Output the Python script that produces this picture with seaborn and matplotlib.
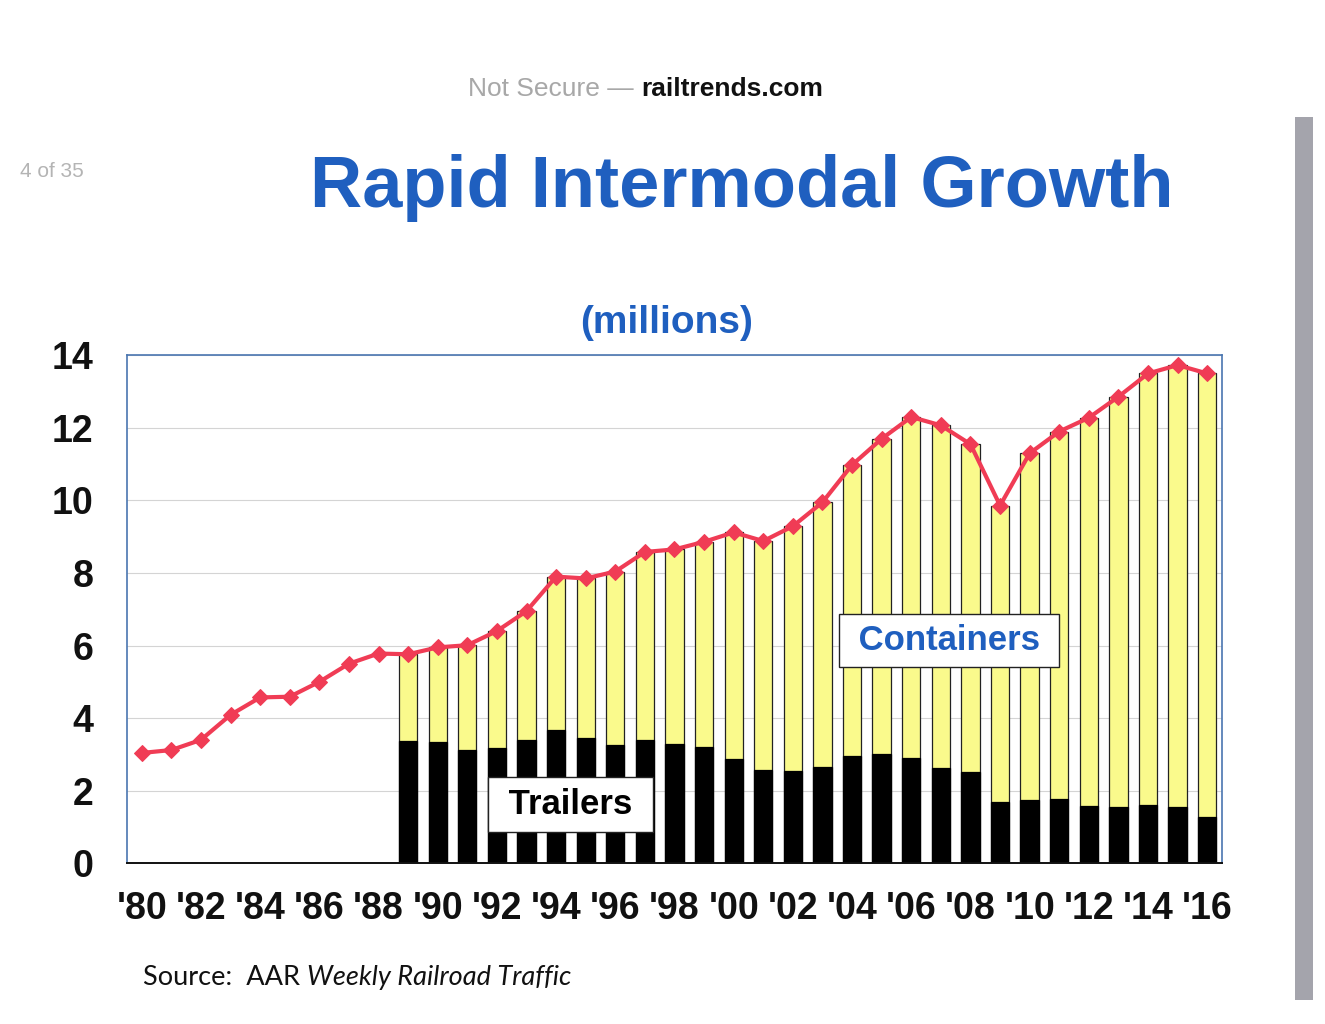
import matplotlib

matplotlib.use("Agg")
import matplotlib.pyplot as plt
from matplotlib.patches import Rectangle
import numpy as np
import pandas as pd
import seaborn as sns

# AAR intermodal units, millions
years = list(range(1980, 2017))
total_units = [
    3.04, 3.12, 3.40, 4.09, 4.57, 4.59, 5.00, 5.50, 5.78,
    5.76, 5.95, 6.01, 6.40, 6.95, 7.90, 7.85, 8.04, 8.58, 8.65,
    8.86, 9.12, 8.88, 9.29, 9.95, 10.98, 11.70, 12.30, 12.07, 11.55,
    9.86, 11.30, 11.90, 12.28, 12.86, 13.50, 13.73, 13.50,
]
# split only reported from 1989 on
split_years = list(range(1989, 2017))
trailers = [
    3.38, 3.33, 3.12, 3.19, 3.40, 3.68, 3.45, 3.26, 3.40, 3.30,
    3.20, 2.87, 2.58, 2.53, 2.64, 2.96, 3.02, 2.90, 2.63, 2.52,
    1.70, 1.74, 1.76, 1.57, 1.55, 1.60, 1.54, 1.27,
]
containers = [
    2.38, 2.62, 2.89, 3.21, 3.55, 4.22, 4.40, 4.78, 5.18, 5.35,
    5.66, 6.25, 6.30, 6.76, 7.31, 8.02, 8.68, 9.40, 9.44, 9.03,
    8.16, 9.56, 10.14, 10.71, 11.31, 11.90, 12.19, 12.23,
]
tick_years = list(range(1980, 2017, 2))
tick_labels = ["'" + str(y)[2:] for y in tick_years]

BLUE = "#1f5fbf"
YELLOW = "#fafa8c"
RED = "#f03c55"

df_total = pd.DataFrame({"year": years, "total": total_units})
df_split = pd.DataFrame(
    {"year": split_years, "trailers": trailers, "containers": containers}
)
df_split["stack_top"] = df_split["trailers"] + df_split["containers"]

sns.set_theme(style="white")
plt.rcParams["font.family"] = ["Liberation Sans", "DejaVu Sans"]

fig = plt.figure(figsize=(13.25, 10.24), dpi=100)
ax = fig.add_axes([0.0958, 0.157, 0.8265, 0.496])

sns.barplot(
    data=df_split,
    x="year",
    y="stack_top",
    native_scale=True,
    color=YELLOW,
    saturation=1,
    edgecolor="#222222",
    linewidth=0.9,
    width=0.62,
    errorbar=None,
    ax=ax,
)
sns.barplot(
    data=df_split,
    x="year",
    y="trailers",
    native_scale=True,
    color="black",
    saturation=1,
    edgecolor="black",
    linewidth=0.9,
    width=0.62,
    errorbar=None,
    ax=ax,
)
sns.lineplot(
    data=df_total,
    x="year",
    y="total",
    color=RED,
    linewidth=3,
    marker="D",
    markersize=8,
    markeredgecolor=RED,
    ax=ax,
)

ax.set_xlim(1979.5, 2016.5)
ax.set_ylim(0, 14)
ax.set_yticks(range(0, 15, 2))
ax.set_yticklabels([str(v) for v in range(0, 15, 2)], fontsize=27, fontweight="bold")
ax.set_xticks(tick_years)
ax.set_xticklabels(tick_labels, fontsize=27, fontweight="bold")
ax.tick_params(axis="y", length=0, pad=24, colors="#111111")
ax.tick_params(axis="x", length=0, pad=20, colors="#111111")
ax.set_xlabel("")
ax.set_ylabel("")
ax.set_axisbelow(True)
ax.yaxis.grid(True, color="#d4d4d4", linewidth=0.8)
ax.xaxis.grid(False)
for side in ["left", "top", "right"]:
    ax.spines[side].set_color("#4a76b0")
    ax.spines[side].set_linewidth(1.2)
ax.spines["bottom"].set_color("#111111")
ax.spines["bottom"].set_linewidth(1.4)

ax.text(
    1994.5, 1.62, " Trailers ",
    ha="center", va="center", fontsize=25, fontweight="bold", color="black",
    bbox=dict(boxstyle="square,pad=0.32", facecolor="white", edgecolor="#222222", linewidth=1),
    zorder=5,
)
ax.text(
    2007.27, 6.14, " Containers ",
    ha="center", va="center", fontsize=25, fontweight="bold", color=BLUE,
    bbox=dict(boxstyle="square,pad=0.28", facecolor="white", edgecolor="#222222", linewidth=1),
    zorder=5,
)

# page header / titles
fig.text(0.478, 0.913, "Not Secure \u2014", ha="right", va="center",
         fontsize=19, color="#a8a8a8")
fig.text(0.484, 0.913, "railtrends.com", ha="left", va="center",
         fontsize=19, fontweight="bold", color="#111111")
fig.text(0.015, 0.833, "4 of 35", ha="left", va="center", fontsize=15, color="#b4b4b4")
fig.text(0.560, 0.798, "Rapid Intermodal Growth", ha="center", va="baseline",
         fontsize=52, fontweight="bold", color=BLUE)
fig.text(0.503, 0.675, "(millions)", ha="center", va="baseline",
         fontsize=28, fontweight="bold", color=BLUE)

src = fig.text(0.108, 0.045, "Source:  AAR ", ha="left", va="center",
               fontsize=19.5, family=["Lato", "DejaVu Sans"], color="#111111")
ax.annotate("Weekly Railroad Traffic", xy=(1, 0), xycoords=src, ha="left", va="bottom",
            fontsize=19.5, style="italic", family=["Lato", "DejaVu Sans"], color="#111111",
            annotation_clip=False)

# scroll bar strip on the right edge of the screenshot
fig.patches.append(Rectangle((0.977, 0.0234), 0.014, 0.862, transform=fig.transFigure,
                             facecolor="#a4a4ac", edgecolor="none"))

fig.savefig("out.png", dpi=100)
